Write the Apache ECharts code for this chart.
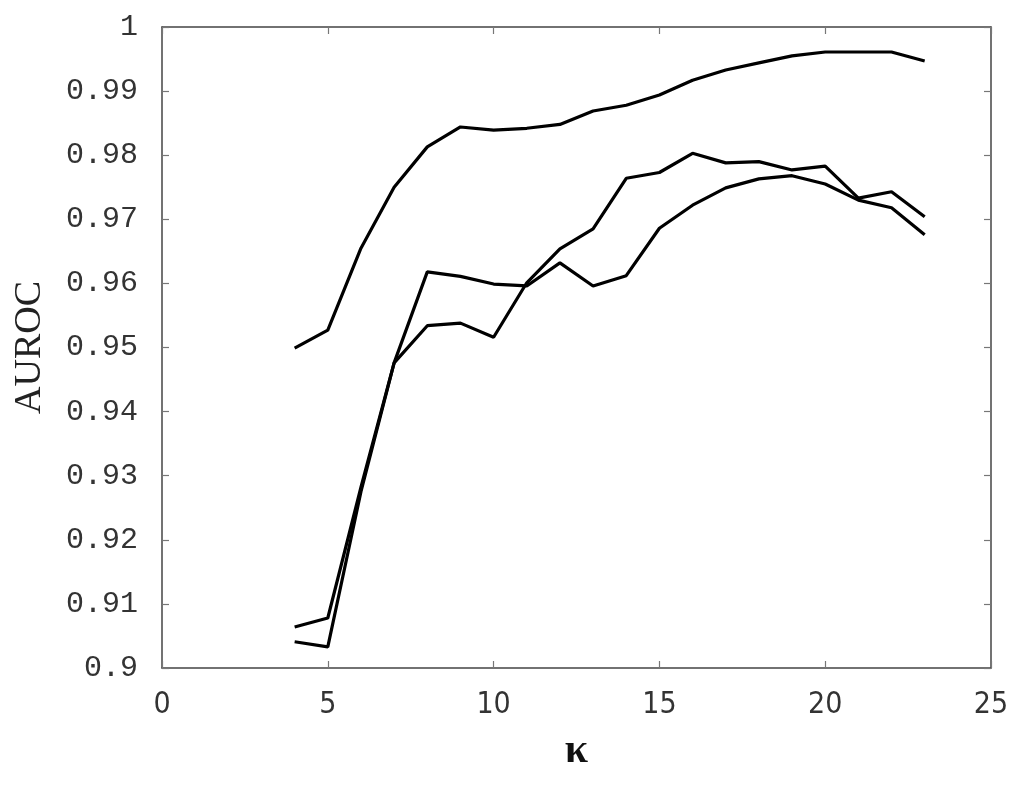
<!DOCTYPE html>
<html>
<head>
<meta charset="utf-8">
<script src="https://cdn.jsdelivr.net/npm/echarts@6/dist/echarts.min.js"></script>
<style>
  html, body { margin: 0; padding: 0; background: #fff; }
  #main { width: 1024px; height: 785px; }
</style>
</head>
<body>
<div id="main"></div>
<script type="text/javascript">
    // kappa values on the x axis
    var kappa = [4, 5, 6, 7, 8, 9, 10, 11, 12, 13, 14, 15, 16, 17, 18, 19, 20, 21, 22, 23];

    var aurocTop = [0.9499, 0.9527, 0.9655, 0.9750, 0.9813, 0.9844, 0.9839, 0.9842, 0.9848, 0.9869,
                    0.9878, 0.9894, 0.9917, 0.9933, 0.9944, 0.9955, 0.9961, 0.9961, 0.9961, 0.9947];
    var aurocMidA = [0.9064, 0.9078, 0.9282, 0.9476, 0.9618, 0.9611, 0.9599, 0.9596, 0.9632, 0.9596,
                     0.9612, 0.9686, 0.9722, 0.9749, 0.9763, 0.9768, 0.9755, 0.9730, 0.9718, 0.9676];
    var aurocMidB = [0.9041, 0.9033, 0.9275, 0.9476, 0.9534, 0.9538, 0.9516, 0.9601, 0.9654, 0.9685,
                     0.9764, 0.9773, 0.9803, 0.9788, 0.9790, 0.9777, 0.9783, 0.9733, 0.9743, 0.9704];

    function pairs(vals) {
        return kappa.map(function (k, i) { return [k, vals[i]]; });
    }

    var frame = { show: true, onZero: false, lineStyle: { color: '#444', width: 1.5 } };
    var ticksIn = { show: true, inside: true, length: 7, lineStyle: { color: '#777', width: 1.2 } };

    var myChart = echarts.init(document.getElementById('main'));
    var option = {
        backgroundColor: '#fff',
        animation: false,
        grid: { left: 162, right: 33, top: 27, bottom: 117, containLabel: false },
        xAxis: [
            {
                type: 'value', position: 'bottom', min: 0, max: 25, interval: 5,
                name: 'κ', nameLocation: 'middle', nameGap: 62,
                nameTextStyle: { fontFamily: 'Liberation Serif', fontWeight: 'bold', fontSize: 42, color: '#111' },
                axisLine: frame, axisTick: ticksIn, splitLine: { show: false },
                axisLabel: { margin: 22, fontFamily: 'DejaVu Sans Condensed, Liberation Sans Narrow, sans-serif',
                             fontSize: 30, color: '#333' }
            },
            {
                type: 'value', position: 'top', min: 0, max: 25, interval: 5,
                axisLine: frame, axisTick: ticksIn, splitLine: { show: false },
                axisLabel: { show: false }
            }
        ],
        yAxis: [
            {
                type: 'value', position: 'left', min: 0.9, max: 1, interval: 0.01,
                name: 'AUROC', nameLocation: 'middle', nameGap: 113,
                nameTextStyle: { fontFamily: 'Liberation Serif', fontSize: 38, color: '#222' },
                axisLine: frame, axisTick: ticksIn, splitLine: { show: false },
                axisLabel: { margin: 24, fontFamily: 'Liberation Mono, monospace', fontSize: 30, color: '#333' }
            },
            {
                type: 'value', position: 'right', min: 0.9, max: 1, interval: 0.01,
                axisLine: frame, axisTick: ticksIn, splitLine: { show: false },
                axisLabel: { show: false }
            }
        ],
        series: [aurocTop, aurocMidA, aurocMidB].map(function (vals) {
            return {
                type: 'line',
                data: pairs(vals),
                showSymbol: false,
                lineStyle: { color: '#000', width: 3.2 }
            };
        })
    };
    myChart.setOption(option);
</script>
</body>
</html>
